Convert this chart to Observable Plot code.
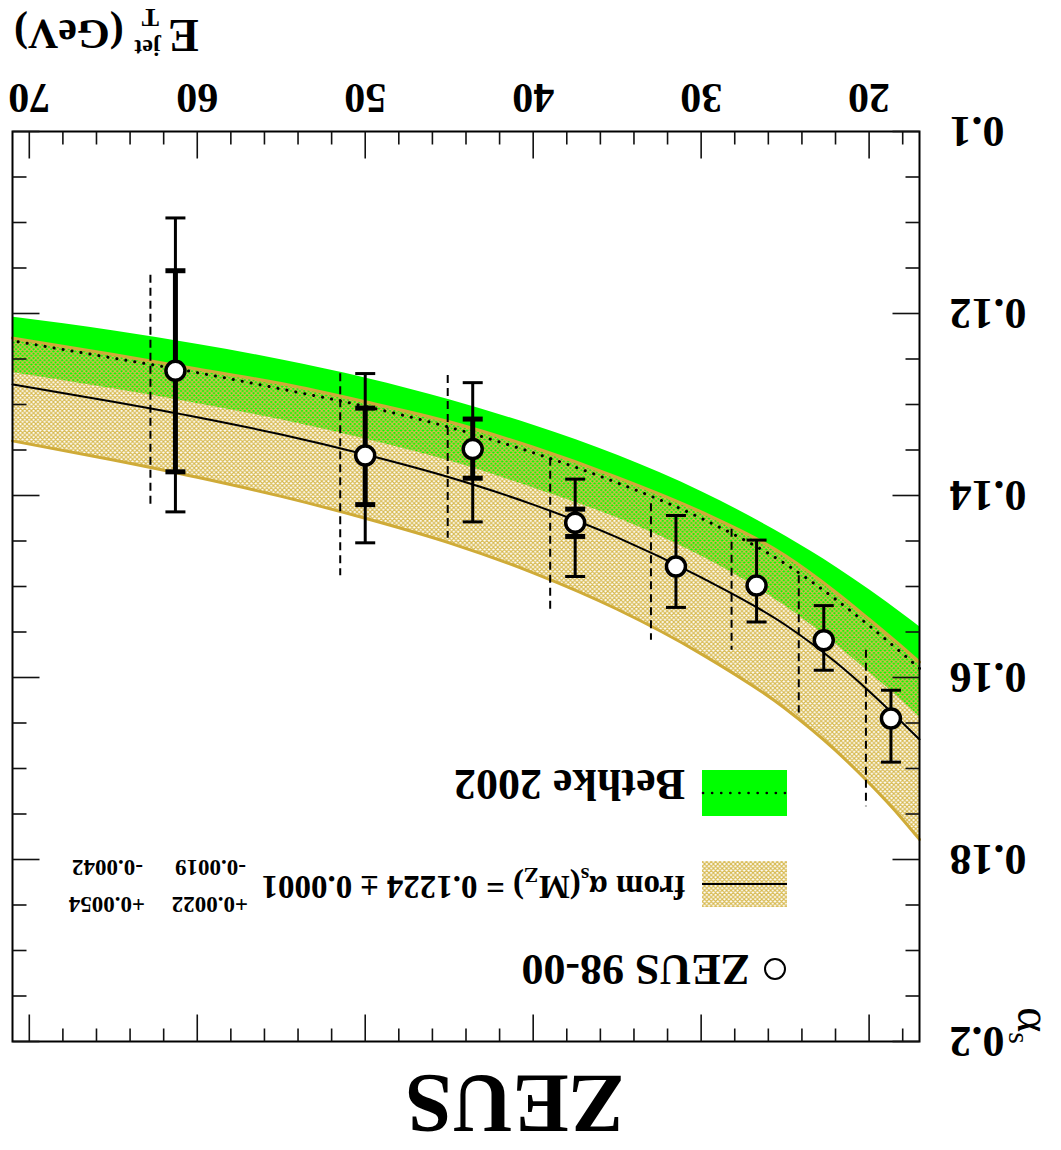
<!DOCTYPE html>
<html><head><meta charset="utf-8">
<script src="https://cdn.jsdelivr.net/npm/d3@7"></script>
<script src="https://cdn.jsdelivr.net/npm/@observablehq/plot@0.6"></script>
<style>
html,body{margin:0;padding:0;background:#fff;}
#root{position:relative;width:1061px;height:1150px;transform:rotate(180deg);overflow:hidden;background:#fff;}
#root svg{position:absolute;left:0;top:0;}
</style></head><body><div id="root"></div>
<script>
// ---- data: ZEUS 98-00 points ----
const ptE     = [61.3, 50.0, 43.6, 37.5, 31.5, 26.7, 22.7, 18.7];
const ptAlpha = [0.1263, 0.1356, 0.1349, 0.1430, 0.1478, 0.1499, 0.1559, 0.1645];
const ptTotLo = [0.1095, 0.1266, 0.1276, 0.1382, 0.1422, 0.1449, 0.1521, 0.1614];
const ptTotHi = [0.1418, 0.1452, 0.1429, 0.1489, 0.1523, 0.1539, 0.1592, 0.1693];
const ptStatLo = [0.1153, 0.1304, 0.1316, 0.1415, null, null, null, null];
const ptStatHi = [0.1374, 0.1410, 0.1381, 0.1445, null, null, null, null];
const ptSysLo = [0.1157, 0.1265, 0.1267, 0.1358, 0.1408, 0.1436, 0.1487, 0.1569];
const ptSysHi = [0.1413, 0.1487, 0.1446, 0.1525, 0.1558, 0.1569, 0.1638, 0.1741];

// ---- data: curves ----
const cE        = [17, 18, 20, 22, 25, 30, 35, 40, 45, 50, 55, 60, 65, 71];
const bethkeTop = [0.1544, 0.1530, 0.1503, 0.1478, 0.1444, 0.1395, 0.1355, 0.1322, 0.1294, 0.1270, 0.1250, 0.1233, 0.1218, 0.1203];
const bethkeMid = [0.1590, 0.1574, 0.1543, 0.1514, 0.1475, 0.1425, 0.1386, 0.1353, 0.1325, 0.1302, 0.1283, 0.1265, 0.1249, 0.1230];
const bethkeBot = [0.1643, 0.1626, 0.1594, 0.1563, 0.1521, 0.1466, 0.1424, 0.1391, 0.1361, 0.1337, 0.1316, 0.1298, 0.1282, 0.1264];
const zeusTop   = [0.1583, 0.1567, 0.1536, 0.1506, 0.1466, 0.1418, 0.1380, 0.1347, 0.1319, 0.1297, 0.1277, 0.1261, 0.1245, 0.1227];
const zeusMid   = [0.1668, 0.1650, 0.1615, 0.1583, 0.1542, 0.1490, 0.1446, 0.1410, 0.1380, 0.1355, 0.1333, 0.1314, 0.1297, 0.1278];
const zeusBot   = [0.1778, 0.1756, 0.1716, 0.1680, 0.1634, 0.1574, 0.1525, 0.1485, 0.1452, 0.1425, 0.1401, 0.1380, 0.1361, 0.1340];

// ---- ticks ----
const xTicks = [20, 30, 40, 50, 60, 70];
const yTicks = [0.1, 0.12, 0.14, 0.16, 0.18, 0.2];
const yTickLabels = ["0.1", "0.12", "0.14", "0.16", "0.18", "0.2"];

// ---- build tables ----
const pts = ptE.map((E, i) => ({E, alpha: ptAlpha[i], totLo: ptTotLo[i], totHi: ptTotHi[i],
  statLo: ptStatLo[i], statHi: ptStatHi[i], sysLo: ptSysLo[i], sysHi: ptSysHi[i]}));
const statPts = pts.filter(d => d.statLo != null);
const curve = cE.map((E, i) => ({E, gTop: bethkeTop[i], gMid: bethkeMid[i], gBot: bethkeBot[i],
  zTop: zeusTop[i], zMid: zeusMid[i], zBot: zeusBot[i]}));

const xMinor = d3.range(18, 71, 2).filter(v => v % 10 !== 0);
const yMinor = d3.range(100, 201, 5).filter(v => v % 20 !== 0).map(v => v / 1000);
const yLabelOf = new Map(yTicks.map((v, i) => [v, yTickLabels[i]]));

const GREEN = "#00ff00", GOLD = "#cfab38", HATCH_KEY = "#123456";
const FONT = "Liberation Serif, Times New Roman, serif";
const CURVE = "monotone-x";

const sym = f => ({draw(c, s) { f(c, Math.sqrt(s / Math.PI)); }});
const hbar = sym((c, l) => { c.moveTo(-l, 0); c.lineTo(l, 0); });
const tUp = sym((c, l) => { c.moveTo(0, 0); c.lineTo(0, -l); });
const tDown = sym((c, l) => { c.moveTo(0, 0); c.lineTo(0, l); });
const tRight = sym((c, l) => { c.moveTo(0, 0); c.lineTo(l, 0); });
const tLeft = sym((c, l) => { c.moveTo(0, 0); c.lineTo(-l, 0); });
const tick = (data, dim, anchor, symbol, len) => Plot.dot(data, {
  [dim]: d => d, frameAnchor: anchor, symbol, r: len, stroke: "#111", strokeWidth: 1.6, fill: "none"});

const plot = Plot.plot({
  width: 1061, height: 1150,
  marginTop: 108, marginBottom: 132, marginLeft: 141, marginRight: 13,
  x: {domain: [17, 71]},
  y: {domain: [0.1, 0.2]},
  style: {background: "transparent", color: "black"},
  marks: [
    Plot.areaY(curve, {x: "E", y1: "gTop", y2: "gBot", fill: GREEN, curve: CURVE}),
    Plot.areaY(curve, {x: "E", y1: "zTop", y2: "zBot", fill: HATCH_KEY, curve: CURVE}),
    Plot.lineY(curve, {x: "E", y: "zTop", stroke: GOLD, strokeWidth: 3, curve: CURVE}),
    Plot.lineY(curve, {x: "E", y: "zBot", stroke: GOLD, strokeWidth: 3, curve: CURVE}),
    Plot.lineY(curve, {x: "E", y: "gMid", stroke: "black", strokeWidth: 3, strokeDasharray: "0.1,9", strokeLinecap: "round", curve: CURVE}),
    Plot.lineY(curve, {x: "E", y: "zMid", stroke: "black", strokeWidth: 2, curve: CURVE}),
    Plot.ruleX(pts, {x: "E", y1: "sysLo", y2: "sysHi", dx: 25, stroke: "black", strokeWidth: 2, strokeDasharray: "8,5"}),
    Plot.ruleX(pts, {x: "E", y1: "totLo", y2: "totHi", stroke: "black", strokeWidth: 3}),
    Plot.ruleX(statPts, {x: "E", y1: "statLo", y2: "statHi", stroke: "black", strokeWidth: 5}),
    Plot.dot(pts, {x: "E", y: "totLo", symbol: hbar, r: 10, stroke: "black", strokeWidth: 3, fill: "none"}),
    Plot.dot(pts, {x: "E", y: "totHi", symbol: hbar, r: 10, stroke: "black", strokeWidth: 3, fill: "none"}),
    Plot.dot(statPts, {x: "E", y: "statLo", symbol: hbar, r: 10, stroke: "black", strokeWidth: 5, fill: "none"}),
    Plot.dot(statPts, {x: "E", y: "statHi", symbol: hbar, r: 10, stroke: "black", strokeWidth: 5, fill: "none"}),
    Plot.dot(pts, {x: "E", y: "alpha", r: 9.5, fill: "white", stroke: "black", strokeWidth: 3.5}),
    Plot.frame({stroke: "black", strokeWidth: 2}),
    tick(xTicks, "x", "bottom", tUp, 27), tick(xMinor, "x", "bottom", tUp, 13),
    tick(xTicks, "x", "top", tDown, 27), tick(xMinor, "x", "top", tDown, 13),
    tick(yTicks, "y", "left", tRight, 27), tick(yMinor, "y", "left", tRight, 14),
    tick(yTicks, "y", "right", tLeft, 27), tick(yMinor, "y", "right", tLeft, 14),
    Plot.axisX({anchor: "bottom", ticks: xTicks, tickSize: 0, tickPadding: 18, label: null,
      fontSize: 42, fontWeight: "bold", fontFamily: FONT}),
    Plot.axisY({anchor: "left", ticks: yTicks, tickSize: 0, tickPadding: 30, label: null,
      tickFormat: d => yLabelOf.get(d), fontSize: 44, fontWeight: "bold", fontFamily: FONT})
  ]
});

// hatch pattern
function addHatch(defsSel, id) {
  const p = defsSel.append("pattern").attr("id", id).attr("patternUnits", "userSpaceOnUse")
    .attr("width", 4.4).attr("height", 4.4);
  p.append("path").attr("d", "M-1,-1 L5.4,5.4 M-1,5.4 L5.4,-1 M-1,3.4 L1,5.4 M3.4,-1 L5.4,1 M-1,1 L1,-1 M3.4,5.4 L5.4,3.4")
    .attr("stroke", "#d7b94f").attr("stroke-width", 1.15).attr("fill", "none");
}
const ps = d3.select(plot);
addHatch(ps.insert("defs", ":first-child"), "hatchP");
ps.selectAll(`[fill="${HATCH_KEY}"]`).attr("fill", "url(#hatchP)");

const root = document.getElementById("root");
root.appendChild(plot);

// overlay: title, axis labels, legend
const ov = d3.select(root).append("svg").attr("width", 1061).attr("height", 1150)
  .style("pointer-events", "none").attr("font-family", FONT).attr("font-weight", "bold");
addHatch(ov.append("defs"), "hatchL");

ov.append("text").attr("x", 546).attr("y", 75).attr("text-anchor", "middle")
  .attr("font-size", 84).text("ZEUS");

// x label
ov.append("text").attr("x", 1047).attr("y", 1130).attr("text-anchor", "end").attr("font-size", 42).text("(GeV)");
ov.append("text").attr("x", 893).attr("y", 1130).attr("text-anchor", "end").attr("font-size", 46).text("E");
ov.append("text").attr("x", 900).attr("y", 1110).attr("font-size", 24).text("jet");
ov.append("text").attr("x", 902).attr("y", 1141).attr("font-size", 26).text("T");

// y label
const yl = ov.append("text").attr("transform", "translate(43,106) rotate(-90)").attr("text-anchor", "end")
  .attr("font-size", 48).attr("font-weight", "normal");
yl.append("tspan").text("α");
yl.append("tspan").attr("dy", 9).attr("font-size", 30).text("s");

// legend: Bethke
ov.append("rect").attr("x", 274).attr("y", 334).attr("width", 85).attr("height", 46).attr("fill", GREEN);
ov.append("line").attr("x1", 276).attr("x2", 359).attr("y1", 357).attr("y2", 357)
  .attr("stroke", "black").attr("stroke-width", 2.6).attr("stroke-dasharray", "0.1,9").attr("stroke-linecap", "round");
ov.append("text").attr("x", 376).attr("y", 380).attr("font-size", 44).text("Bethke 2002");

// legend: ZEUS fit
ov.append("rect").attr("x", 274).attr("y", 243).attr("width", 85).attr("height", 46).attr("fill", "url(#hatchL)");
ov.append("line").attr("x1", 274).attr("x2", 359).attr("y1", 266).attr("y2", 266).attr("stroke", "black").attr("stroke-width", 2);
const ft = ov.append("text").attr("x", 376).attr("y", 274).attr("font-size", 33);
ft.append("tspan").text("from α");
ft.append("tspan").attr("dy", 8).attr("font-size", 22).text("s");
ft.append("tspan").attr("dy", -8).text("(M");
ft.append("tspan").attr("dy", 8).attr("font-size", 22).text("Z");
ft.append("tspan").attr("dy", -8).text(") = 0.1224 ± 0.0001");
[["+0.0022", 813, 253], ["-0.0019", 815, 290], ["+0.0054", 916, 253], ["-0.0042", 918, 290]].forEach(([t, x, y]) =>
  ov.append("text").attr("x", x).attr("y", y).attr("font-size", 23).text(t));

// legend: ZEUS 98-00
ov.append("circle").attr("cx", 286).attr("cy", 181).attr("r", 10).attr("fill", "white").attr("stroke", "black").attr("stroke-width", 2);
ov.append("text").attr("x", 311).attr("y", 195).attr("font-size", 44).text("ZEUS 98-00");
</script></body></html>
